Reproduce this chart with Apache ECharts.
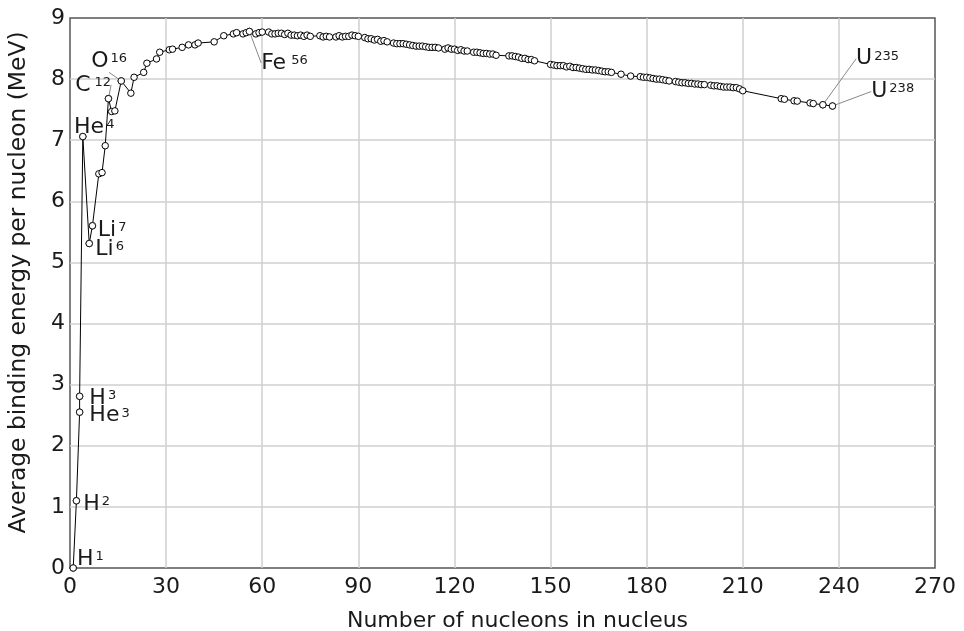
<!DOCTYPE html>
<html>
<head>
<meta charset="utf-8">
<script src="https://cdn.jsdelivr.net/npm/echarts@6/dist/echarts.min.js"></script>
<style>html,body{margin:0;padding:0;background:#fff}#chart{width:964px;height:631px}</style>
</head>
<body>
<div id="chart"></div>
<script>
// ---- data ----
const massNumbers = [1,2,3,3,4,6,7,9,10,11,12,13,14,16,19,20,23,24,27,28,31,32,35,37,39,40,45,48,51,52,54,55,56,58,59,60,
  62,63,64,65,66,67,68,69,70,71,72,73,74,75,78,79,80,81,83,84,85,86,87,88,89,90,
  92,93,94,95,96,97,98,99,101,102,103,104,105,106,107,108,109,110,111,112,113,114,115,
  117,118,119,120,121,122,123,124,126,127,128,129,130,131,132,133,137,138,139,140,141,142,143,144,145,
  150,151,152,153,154,155,156,157,158,159,160,161,162,163,164,165,166,167,168,169,172,175,
  178,179,180,181,182,183,184,185,186,187,189,190,191,192,193,194,195,196,197,198,
  200,201,202,203,204,205,206,207,208,209,210,222,223,226,227,231,232,235,238];
const bindingEnergies = [0,1.10,2.55,2.81,7.06,5.31,5.60,6.45,6.47,6.91,7.68,7.47,7.48,7.97,7.77,8.03,8.11,8.26,8.33,8.44,8.48,8.49,8.52,8.56,8.56,8.59,8.61,8.71,8.74,8.76,8.74,8.76,8.78,8.74,8.76,8.77,
  8.77,8.74,8.74,8.75,8.75,8.73,8.75,8.72,8.72,8.71,8.72,8.70,8.72,8.70,8.71,8.69,8.70,8.69,8.69,8.71,8.69,8.70,8.70,8.72,8.71,8.70,
  8.68,8.66,8.66,8.64,8.65,8.62,8.63,8.61,8.59,8.58,8.58,8.58,8.57,8.56,8.55,8.54,8.54,8.54,8.53,8.52,8.52,8.52,8.51,
  8.49,8.51,8.49,8.49,8.47,8.48,8.46,8.46,8.44,8.44,8.43,8.42,8.42,8.41,8.41,8.39,8.38,8.38,8.37,8.36,8.34,8.34,8.32,8.32,8.30,
  8.24,8.23,8.22,8.22,8.22,8.20,8.21,8.19,8.19,8.18,8.17,8.16,8.16,8.15,8.15,8.14,8.13,8.12,8.12,8.11,8.08,8.05,
  8.04,8.03,8.03,8.02,8.01,8.00,8.00,7.99,7.98,7.97,7.96,7.95,7.94,7.94,7.93,7.93,7.92,7.92,7.91,7.91,
  7.90,7.89,7.89,7.88,7.87,7.87,7.87,7.86,7.86,7.84,7.81,7.68,7.67,7.645,7.64,7.61,7.60,7.58,7.56];

const labelElements = ['H','H','H','He','He','Li','Li','C','O','Fe','U','U'];
const labelMasses   = ['1','2','3','3','4','6','7','12','16','56','235','238'];
const labelA        = [1,2,3,3,4,6,7,12,16,56,235,238];
const labelEnergy   = [0,1.10,2.81,2.55,7.06,5.31,5.60,7.68,7.97,8.78,7.58,7.56];

const xTickLabels = ['0','30','60','90','120','150','180','210','240','270'];
const yTickLabels = ['0','1','2','3','4','5','6','7','8','9'];

const xTitle = 'Number of nucleons in nucleus';
const yTitle = 'Average binding energy per nucleon (MeV)';

// ---- styling / layout (not data) ----
const FONT = 'DejaVu Sans';
const TXT = '#1a1a1a';
// label offsets [dx, dy] from the default "right" placement, and whether a leader line is drawn
const labelPlacement = [
  [0,-9,false],[3,3.5,false],[6,1.8,false],[6,3.5,false],[-12.5,-9.5,false],
  [2.3,6,false],[1.6,4.5,false],
  [-37,-13.8,true],[-33.8,-19.5,true],[8,31.5,true],[29.5,-46,true],[35,-14.5,true]
];
const supPad = {C:4, Fe:5};

const xVals = xTickLabels.map(Number), yVals = yTickLabels.map(Number);
const mainData = massNumbers.map((a,i)=>[a, bindingEnergies[i]]);
const annData = labelA.map((a,i)=>({
  value:[a, labelEnergy[i]],
  label:{formatter:'{el|'+labelElements[i]+'}{sup|'+labelMasses[i]+'}',
         color:TXT, opacity:1,
         rich:{el:{fontSize:22,fontFamily:FONT,color:TXT},
               sup:{fontSize:13,fontFamily:FONT,color:TXT,verticalAlign:'top',padding:[2,0,0,supPad[labelElements[i]]||2]}}},
  labelLine:{show:labelPlacement[i][2], lineStyle:{color:'#888',width:1,opacity:1}}
}));

const chart = echarts.init(document.getElementById('chart'), null, {renderer:'canvas'});
chart.setOption({
  animation:false,
  backgroundColor:'#fff',
  grid:{left:70,right:29,top:18,bottom:63,containLabel:false,outerBoundsMode:'none',
        show:true,borderColor:'#555',borderWidth:1.5,backgroundColor:'transparent'},
  xAxis:{type:'value',min:xVals[0],max:xVals[xVals.length-1],interval:xVals[1]-xVals[0],
    name:xTitle,nameLocation:'middle',nameGap:42,
    nameTextStyle:{fontSize:22,fontFamily:FONT,color:TXT,padding:[0,0,0,30]},
    axisLine:{show:false},axisTick:{show:false},
    axisLabel:{fontSize:22,fontFamily:FONT,color:TXT,margin:8},
    splitLine:{show:true,showMinLine:false,showMaxLine:false,lineStyle:{color:'#cfcfcf',width:1.5}}},
  yAxis:{type:'value',min:yVals[0],max:yVals[yVals.length-1],interval:yVals[1]-yVals[0],
    name:yTitle,nameLocation:'middle',nameGap:40,
    nameTextStyle:{fontSize:23.4,fontFamily:FONT,color:TXT,padding:[0,0,0,21]},
    axisLine:{show:false},axisTick:{show:false},
    axisLabel:{fontSize:22,fontFamily:FONT,color:TXT,margin:5},
    splitLine:{show:true,showMinLine:false,showMaxLine:false,lineStyle:{color:'#cfcfcf',width:1.5}}},
  series:[
    {type:'line',data:mainData,showAllSymbol:true,symbol:'circle',symbolSize:6.5,
     lineStyle:{color:'#000',width:1},
     itemStyle:{color:'#fff',borderColor:'#000',borderWidth:1},
     emphasis:{disabled:true},z:3},
    {type:'scatter',data:annData,symbol:'circle',symbolSize:6.5,
     itemStyle:{color:'#fff',borderColor:'#000',borderWidth:1},
     label:{show:true,position:'right',distance:0,color:TXT},
     labelLayout:function(p){const o=labelPlacement[p.dataIndex];return {dx:o[0],dy:o[1],hideOverlap:false};},
     emphasis:{disabled:true},z:4}
  ]
});
</script>
</body>
</html>
